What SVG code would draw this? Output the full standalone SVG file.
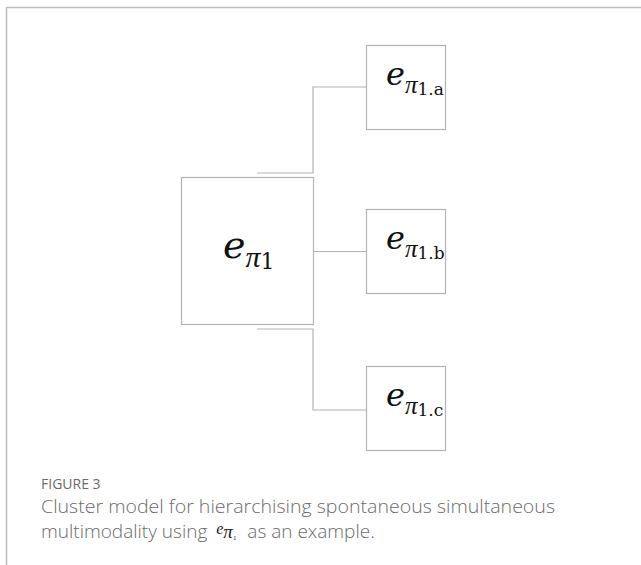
<svg xmlns="http://www.w3.org/2000/svg" width="641" height="565" viewBox="0 0 641 565">
<style>
.box{fill:#fff;stroke:#b3b3b3;stroke-width:1.2}
.con{fill:none;stroke:#b3b3b3;stroke-width:1.2}
.m{font-family:"DejaVu Serif","Liberation Serif",serif;fill:#111}
.it{font-style:italic}
.pi{font-family:"Liberation Serif",serif;font-style:italic}
.cap{font-family:"Open Sans",Lato,sans-serif;fill:#6b6b6b}
.cm{font-family:"Liberation Serif",serif;fill:#222}
</style>
<rect width="641" height="565" fill="#fff"/>
<path d="M6.5 565 V7.5 H641" fill="none" stroke="#bdbdbd" stroke-width="1.5"/>
<g id="connectors">
<path class="con" d="M257 173 H313 V87 H366"/>
<path class="con" d="M313 251.5 H366"/>
<path class="con" d="M257 329 H313 V410 H366"/>
</g>
<g id="node-e1">
<rect class="box" x="181.5" y="177.5" width="132" height="147"/>
<text class="m" x="223" y="258" font-size="38"><tspan class="it">e</tspan><tspan class="pi" font-size="30" dy="9">π</tspan><tspan font-size="22" dy="2">1</tspan></text>
</g>
<g id="node-e1a">
<rect class="box" x="366.5" y="45.5" width="79" height="84"/>
<text class="m" x="386" y="85" font-size="32"><tspan class="it">e</tspan><tspan class="pi" font-size="25" dy="8">π</tspan><tspan font-size="17" dy="2">1.a</tspan></text>
</g>
<g id="node-e1b">
<rect class="box" x="366.5" y="209.5" width="79" height="84"/>
<text class="m" x="386" y="249" font-size="32"><tspan class="it">e</tspan><tspan class="pi" font-size="25" dy="8">π</tspan><tspan font-size="17" dy="2">1.b</tspan></text>
</g>
<g id="node-e1c">
<rect class="box" x="366.5" y="366.5" width="79" height="84"/>
<text class="m" x="386" y="406" font-size="32"><tspan class="it">e</tspan><tspan class="pi" font-size="25" dy="8">π</tspan><tspan font-size="17" dy="2">1.c</tspan></text>
</g>
<g id="caption">
<text class="cap" x="41" y="489" font-size="14">FIGURE 3</text>
<text class="cap" x="41" y="513" font-size="19" font-weight="300" textLength="514" lengthAdjust="spacingAndGlyphs">Cluster model for hierarchising spontaneous simultaneous</text>
<text class="cap" x="41" y="538" font-size="19" font-weight="300">multimodality using <tspan class="cm" font-style="italic" font-size="16" dx="4" dy="-4">e</tspan><tspan class="cm" font-style="italic" font-size="19" dy="4">π</tspan><tspan class="cm" font-size="7" dy="2">1</tspan><tspan dx="6" dy="-2"> as an example.</tspan></text>
</g>
</svg>
